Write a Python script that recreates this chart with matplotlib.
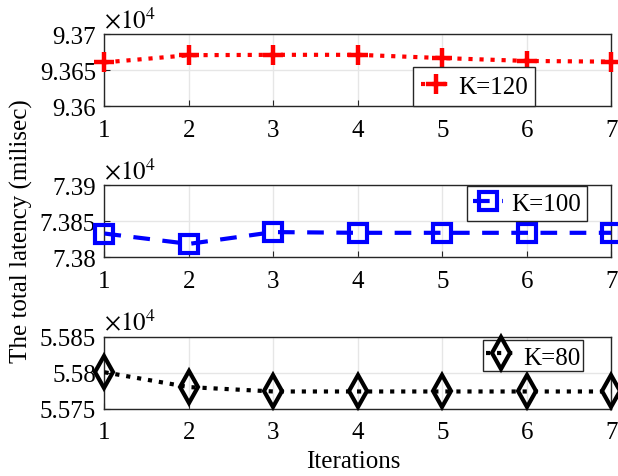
import numpy as np
import matplotlib
matplotlib.use("Agg")
import matplotlib.pyplot as plt
from matplotlib.ticker import FuncFormatter

plt.rcParams['font.family'] = ['Liberation Serif', 'DejaVu Serif']
plt.rcParams['mathtext.fontset'] = 'stix'

iterations = [1, 2, 3, 4, 5, 6, 7]
lat_k120 = [93661, 93671, 93671.5, 93671.5, 93667, 93663, 93662]
lat_k100 = [73833, 73818.6, 73835, 73834, 73834, 73834, 73834]
lat_k80 = [55801, 55780.4, 55774.3, 55774.3, 55774.3, 55774.3, 55774.3]

panels = [
    (lat_k120, 'K=120', (93600, 93700), [93600, 93650, 93700]),
    (lat_k100, 'K=100', (73800, 73900), [73800, 73850, 73900]),
    (lat_k80, 'K=80', (55750, 55850), [55750, 55800, 55850]),
]
styles = [
    dict(color='red', linestyle=':', marker='+', markersize=15, markeredgewidth=3.2, linewidth=3),
    dict(color='blue', linestyle='--', marker='s', markersize=13, markeredgewidth=3,
         markerfacecolor='none', linewidth=3, dashes=(4, 3)),
    dict(color='black', linestyle=':', marker='d', markersize=16, markeredgewidth=3,
         markerfacecolor='none', linewidth=3),
]
leg_pos = [(0.609, 0.01, 'lower left'), (0.952, 0.985, 'upper right'), (0.944, 0.963, 'upper right')]
leg_hh = [0.8, 0.7, 1.25]
leg_bp = [0.3, 0.25, 0.1]

fig = plt.figure(figsize=(6.18, 4.77), dpi=100)
bottoms = [0.775, 0.4585, 0.1405]
fmt = FuncFormatter(lambda v, p: f"{v/1e4:g}")

for i, (vals, lab, ylim, yt) in enumerate(panels):
    ax = fig.add_axes([0.169, bottoms[i], 0.82, 0.151])
    ax.plot(iterations, vals, label=lab, clip_on=False, zorder=3, **styles[i])
    ax.set_xlim(1, 7)
    ax.set_ylim(*ylim)
    ax.set_yticks(yt)
    ax.set_xticks(iterations)
    ax.yaxis.set_major_formatter(fmt)
    ax.grid(True, color='#e6e6e6', linewidth=1)
    ax.set_axisbelow(True)
    ax.tick_params(direction='in', labelsize=18, length=4, color='#262626')
    ax.tick_params(axis='y', pad=6)
    ax.tick_params(axis='x', pad=9)
    for s in ax.spines.values():
        s.set_color('#262626')
        s.set_linewidth(1)
    ax.text(0.0, 1.03, r'$\times 10^4$', transform=ax.transAxes, fontsize=18, va='bottom', ha='left')
    x, y, loc = leg_pos[i]
    ax.legend(loc=loc, bbox_to_anchor=(x, y), borderaxespad=0, fontsize=18, fancybox=False,
              framealpha=1, edgecolor='#262626', handlelength=1.2, handletextpad=0.3,
              borderpad=leg_bp[i], handleheight=leg_hh[i], markerscale=1.0)

fig.text(0.035, 0.515, 'The total latency (milisec)', rotation=90, fontsize=18, va='center', ha='center')
fig.text(0.572, 0.032, 'Iterations', fontsize=18, ha='center', va='center')

fig.savefig('out.png', dpi=100)
